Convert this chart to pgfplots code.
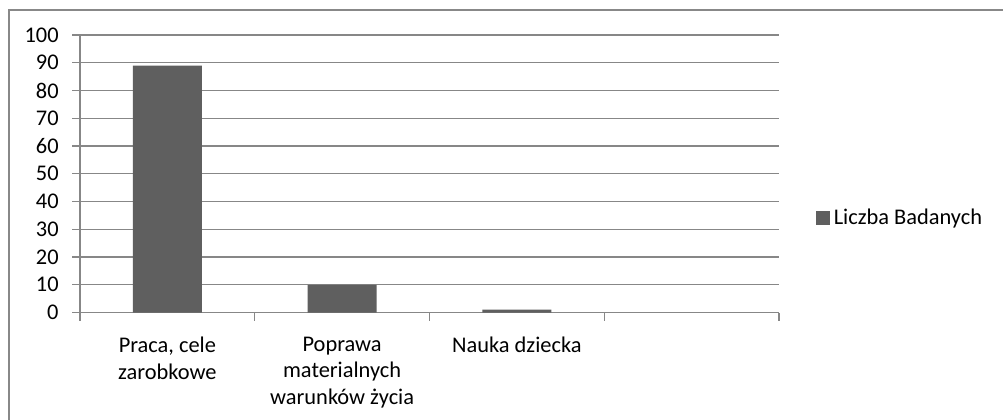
\documentclass[border=0pt]{standalone}
\usepackage{fontspec}
\setmainfont{Carlito}
\usepackage{pgfplots}
\pgfplotsset{compat=1.18}
\definecolor{barcol}{HTML}{5F5F5F}
\definecolor{gridcol}{HTML}{878787}
\definecolor{framecol}{HTML}{888888}
\begin{document}
\begin{tikzpicture}
\useasboundingbox (0,0) rectangle (501.5pt,209.5pt);
\clip (0,0) rectangle (501.5pt,209.5pt);
\fill[white] (0,0) rectangle (501.5pt,209.5pt);
\draw[framecol, line width=1pt] (4.5pt,-20pt) rectangle (520pt,204.5pt);
\begin{axis}[
  at={(40pt,53.25pt)}, anchor=south west,
  scale only axis, width=349.5pt, height=138.75pt,
  xmin=0, xmax=4, ymin=0, ymax=100,
  ytick={0,10,...,100},
  xtick={0,1,2,3,4}, xticklabels={},
  extra x ticks={0.5,1.5,2.5},
  extra x tick labels={{Praca, cele\\zarobkowe},{Poprawa\\materialnych\\warunków życia},{Nauka dziecka}},
  extra x tick style={major tick length=0pt, grid=none},
  axis lines=left,
  axis line style={-, draw=gridcol, line width=0.6pt},
  ymajorgrids,
  grid style={draw=gridcol, line width=0.6pt},
  tick align=outside, major tick length=4pt,
  tick style={draw=gridcol, line width=0.6pt},
  tick label style={font=\fontsize{11.2}{13.3}\selectfont},
  /pgf/number format/assume math mode=true,
  yticklabel style={anchor=east, inner sep=0pt, xshift=-6.5pt},
  xticklabel style={align=center, anchor=north, inner sep=0pt, yshift=-12pt},
  legend style={at={(1.052,0.34)}, anchor=west, draw=none, fill=none,
    font=\fontsize{11.2}{13.3}\selectfont, inner sep=0pt},
  legend image code/.code={\fill[barcol] (0pt,-3.5pt) rectangle (7pt,3.5pt);},
]
\addplot[ybar, bar width=34.5pt, fill=barcol, draw=none] coordinates {(0.5,89) (1.5,10) (2.5,1)};
\addlegendentry{Liczba Badanych}
\end{axis}
\end{tikzpicture}
\end{document}
